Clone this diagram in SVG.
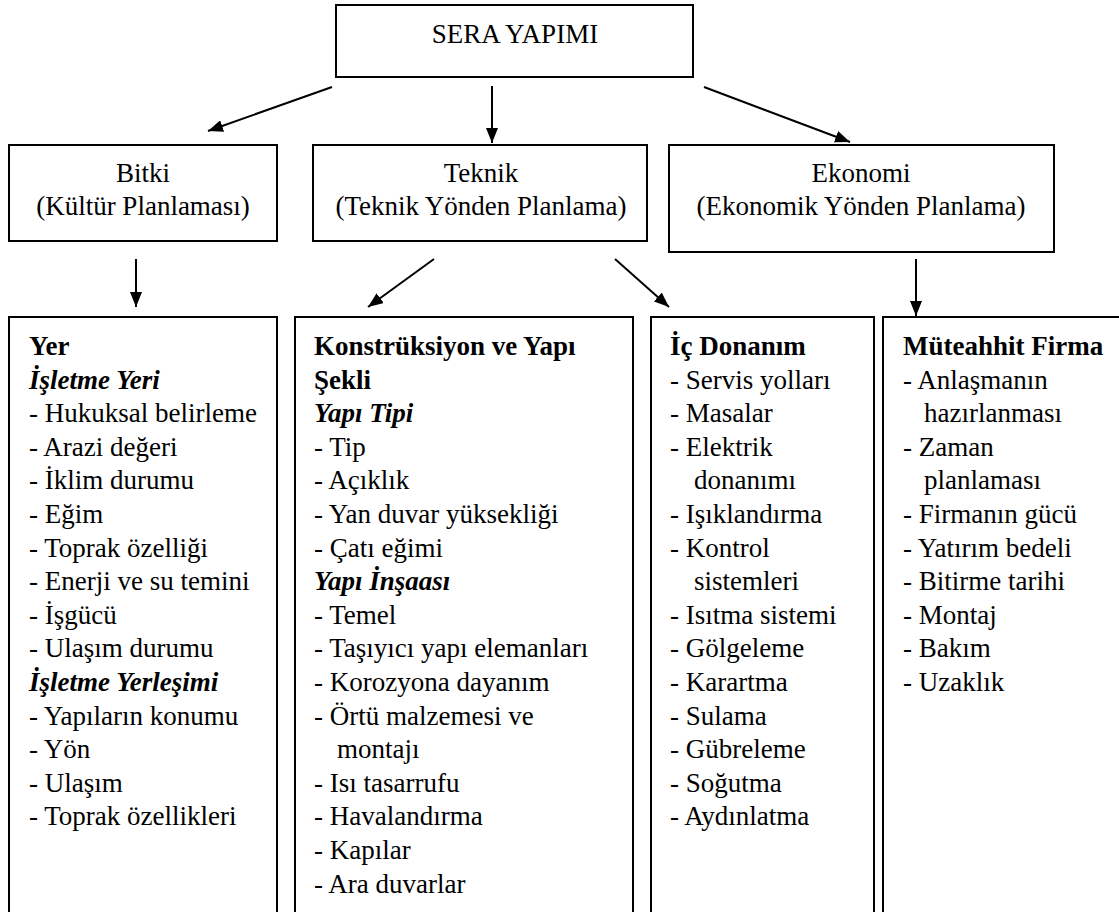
<svg xmlns="http://www.w3.org/2000/svg" width="1119" height="912" viewBox="0 0 1119 912" xml:lang="tr" font-family="Liberation Serif, serif" font-size="27">
<defs>
<marker id="ah" markerUnits="userSpaceOnUse" markerWidth="16" markerHeight="12" refX="15" refY="6" orient="auto">
<path d="M0,0 L15,6 L0,12 Z" fill="#000"/>
</marker>
</defs>
<rect width="1119" height="912" fill="#fff"/>
<g id="sera">
<rect x="336" y="5" width="357" height="72" fill="#fff" stroke="#000" stroke-width="2"/>
<text text-anchor="middle" x="515" y="43">SERA YAPIMI</text>
</g>
<g id="bitki">
<rect x="9" y="145" width="268" height="96" fill="#fff" stroke="#000" stroke-width="2"/>
<text text-anchor="middle" x="143" y="182">Bitki</text>
<text text-anchor="middle" x="143" y="215">(Kültür Planlaması)</text>
</g>
<g id="teknik">
<rect x="313" y="145" width="334" height="96" fill="#fff" stroke="#000" stroke-width="2"/>
<text text-anchor="middle" x="481" y="182">Teknik</text>
<text text-anchor="middle" x="481" y="215">(Teknik Yönden Planlama)</text>
</g>
<g id="ekonomi">
<rect x="669" y="145" width="385" height="107" fill="#fff" stroke="#000" stroke-width="2"/>
<text text-anchor="middle" x="861" y="182">Ekonomi</text>
<text text-anchor="middle" x="861" y="215">(Ekonomik Yönden Planlama)</text>
</g>
<g id="yer">
<rect x="9" y="317" width="268" height="610" fill="#fff" stroke="#000" stroke-width="2"/>
<text font-weight="bold" x="29" y="355">Yer</text>
<text font-weight="bold" font-style="italic" x="29" y="388.6">İşletme Yeri</text>
<text x="29" y="422.2">- Hukuksal belirleme</text>
<text x="29" y="455.8">- Arazi değeri</text>
<text x="29" y="489.4">- İklim durumu</text>
<text x="29" y="523">- Eğim</text>
<text x="29" y="556.6">- Toprak özelliği</text>
<text x="29" y="590.2">- Enerji ve su temini</text>
<text x="29" y="623.8">- İşgücü</text>
<text x="29" y="657.4">- Ulaşım durumu</text>
<text font-weight="bold" font-style="italic" x="29" y="691">İşletme Yerleşimi</text>
<text x="29" y="724.6">- Yapıların konumu</text>
<text x="29" y="758.2">- Yön</text>
<text x="29" y="791.8">- Ulaşım</text>
<text x="29" y="825.4">- Toprak özellikleri</text>
</g>
<g id="konstruksiyon">
<rect x="295" y="317" width="338" height="610" fill="#fff" stroke="#000" stroke-width="2"/>
<text font-weight="bold" x="314" y="355">Konstrüksiyon ve Yapı</text>
<text font-weight="bold" x="314" y="388.6">Şekli</text>
<text font-weight="bold" font-style="italic" x="314" y="422.2">Yapı Tipi</text>
<text x="314" y="455.8">- Tip</text>
<text x="314" y="489.4">- Açıklık</text>
<text x="314" y="523">- Yan duvar yüksekliği</text>
<text x="314" y="556.6">- Çatı eğimi</text>
<text font-weight="bold" font-style="italic" x="314" y="590.2">Yapı İnşaası</text>
<text x="314" y="623.8">- Temel</text>
<text x="314" y="657.4">- Taşıyıcı yapı elemanları</text>
<text x="314" y="691">- Korozyona dayanım</text>
<text x="314" y="724.6">- Örtü malzemesi ve</text>
<text x="337" y="758.2">montajı</text>
<text x="314" y="791.8">- Isı tasarrufu</text>
<text x="314" y="825.4">- Havalandırma</text>
<text x="314" y="859">- Kapılar</text>
<text x="314" y="892.6">- Ara duvarlar</text>
</g>
<g id="icdonanim">
<rect x="651" y="317" width="223" height="610" fill="#fff" stroke="#000" stroke-width="2"/>
<text font-weight="bold" x="670" y="355">İç Donanım</text>
<text x="670" y="388.6">- Servis yolları</text>
<text x="670" y="422.2">- Masalar</text>
<text x="670" y="455.8">- Elektrik</text>
<text x="694" y="489.4">donanımı</text>
<text x="670" y="523">- Işıklandırma</text>
<text x="670" y="556.6">- Kontrol</text>
<text x="694" y="590.2">sistemleri</text>
<text x="670" y="623.8">- Isıtma sistemi</text>
<text x="670" y="657.4">- Gölgeleme</text>
<text x="670" y="691">- Karartma</text>
<text x="670" y="724.6">- Sulama</text>
<text x="670" y="758.2">- Gübreleme</text>
<text x="670" y="791.8">- Soğutma</text>
<text x="670" y="825.4">- Aydınlatma</text>
</g>
<g id="muteahhit">
<rect x="883" y="317" width="250" height="610" fill="#fff" stroke="#000" stroke-width="2"/>
<text font-weight="bold" x="903" y="355">Müteahhit Firma</text>
<text x="903" y="388.6">- Anlaşmanın</text>
<text x="924" y="422.2">hazırlanması</text>
<text x="903" y="455.8">- Zaman</text>
<text x="924" y="489.4">planlaması</text>
<text x="903" y="523">- Firmanın gücü</text>
<text x="903" y="556.6">- Yatırım bedeli</text>
<text x="903" y="590.2">- Bitirme tarihi</text>
<text x="903" y="623.8">- Montaj</text>
<text x="903" y="657.4">- Bakım</text>
<text x="903" y="691">- Uzaklık</text>
</g>
<g id="connectors" stroke="#000" stroke-width="2" fill="none" marker-end="url(#ah)">
<line x1="332" y1="87" x2="208" y2="131"/>
<line x1="492" y1="86" x2="492" y2="143"/>
<line x1="704" y1="87" x2="850" y2="142"/>
<line x1="136" y1="259" x2="136" y2="307"/>
<line x1="434" y1="259" x2="368" y2="307"/>
<line x1="615" y1="259" x2="669" y2="307"/>
<line x1="916" y1="259" x2="916" y2="316"/>
</g>
</svg>
